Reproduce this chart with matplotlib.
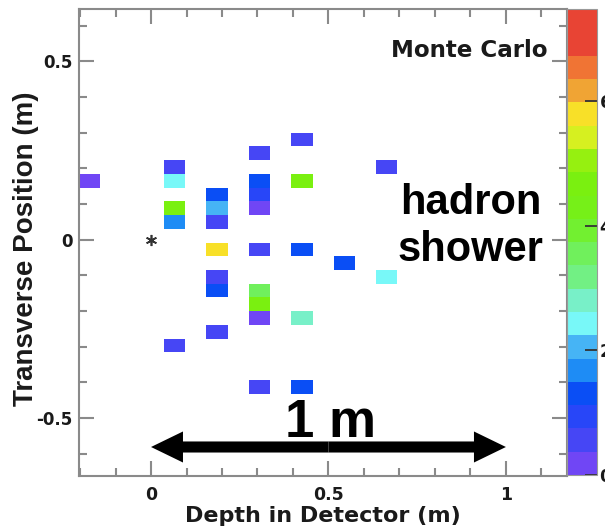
import numpy as np
import matplotlib
matplotlib.use("Agg")
import matplotlib.pyplot as plt
from matplotlib.colors import ListedColormap, BoundaryNorm
from matplotlib.ticker import MultipleLocator, FixedLocator, FormatStrFormatter


# hit cells (depth, transverse position, signal)
depth = [-0.18,
         0.06, 0.06, 0.06, 0.06, 0.06,
         0.18, 0.18, 0.18, 0.18, 0.18, 0.18, 0.18,
         0.30, 0.30, 0.30, 0.30, 0.30, 0.30, 0.30, 0.30, 0.30,
         0.42, 0.42, 0.42, 0.42, 0.42,
         0.54,
         0.66, 0.66]
transverse = [0.166,
              0.204, 0.166, 0.089, 0.050, -0.297,
              0.127, 0.089, 0.050, -0.027, -0.104, -0.143, -0.258,
              0.243, 0.166, 0.127, 0.089, -0.027, -0.143, -0.181, -0.220, -0.412,
              0.281, 0.166, -0.027, -0.220, -0.412,
              -0.066,
              0.204, -0.104]
signal = [0.19,
          0.56, 2.43, 4.68, 1.68, 0.56,
          1.31, 2.06, 0.56, 5.80, 0.56, 1.31, 0.56,
          0.56, 1.31, 0.94, 0.19, 0.56, 3.55, 4.68, 0.19, 0.56,
          0.56, 4.68, 1.31, 2.81, 1.31,
          1.31,
          0.56, 2.43]

# binning of the detector histogram
x_lo, x_hi, nx = -0.203, 1.173, 23
y_lo, y_hi, ny = -0.6623, 0.6467, 34
x_edges = np.linspace(x_lo, x_hi, nx + 1)
y_edges = np.linspace(y_lo, y_hi, ny + 1)

z_max = 7.48
palette = ['#7046F5', '#4646F5', '#2846F8', '#0A4EF5', '#1E8CF5',
           '#46B4F5', '#78F8F8', '#78F0C8', '#72F084', '#70F05C',
           '#72F030', '#76F018', '#7AF010', '#96F010', '#D6F020',
           '#F8E028', '#F0A434', '#F07434', '#E84434', '#E84434']

frame_col = '#8a8a8a'
text_col = '#1a1a1a'

fig = plt.figure(figsize=(6.05, 5.32), dpi=100)
ax = fig.add_axes([79 / 605, 56 / 532, 488.3 / 605, 467 / 532])
cax = fig.add_axes([567.3 / 605, 57 / 532, 29.4 / 605, 465.7 / 532])

H, xe, ye = np.histogram2d(depth, transverse, bins=[x_edges, y_edges], weights=signal)
H = np.ma.masked_equal(H, 0)

cmap = ListedColormap(palette)
norm = BoundaryNorm(np.linspace(0, z_max, len(palette) + 1), len(palette))
mesh = ax.pcolormesh(xe, ye, H.T, cmap=cmap, norm=norm, edgecolors='none', antialiased=False)

# vertex
ax.plot([0], [0], marker=(6, 2, 0), ms=8, mew=1.2, color='#333333', linestyle='none')

ax.set_xlim(x_lo, x_hi)
ax.set_ylim(y_lo, y_hi)

ax.xaxis.set_major_locator(FixedLocator([0, 0.5, 1]))
ax.xaxis.set_minor_locator(MultipleLocator(0.1))
ax.yaxis.set_major_locator(FixedLocator([-0.5, 0, 0.5]))
ax.yaxis.set_minor_locator(MultipleLocator(0.1))
ax.xaxis.set_major_formatter(FormatStrFormatter('%g'))
ax.yaxis.set_major_formatter(FormatStrFormatter('%g'))

ax.tick_params(which='both', direction='in', top=True, right=True, color=frame_col, width=1.5)
ax.tick_params(which='major', length=11)
ax.tick_params(which='minor', length=5.5)
ax.tick_params(axis='x', which='major', pad=7, labelsize=12.5, labelcolor=text_col)
ax.tick_params(axis='y', which='major', pad=4.5, labelsize=12, labelcolor=text_col)
for lab in ax.get_xticklabels() + ax.get_yticklabels():
    lab.set_fontweight('bold')
for sp in ax.spines.values():
    sp.set_color(frame_col)
    sp.set_linewidth(1.5)

ax.set_xlabel('Depth in Detector (m)', fontsize=16, fontweight='bold', color=text_col)
ax.xaxis.set_label_coords(0.5, -0.064)
ax.set_ylabel('Transverse Position (m)', fontsize=20, fontweight='bold', color=text_col,
              family='Liberation Sans')
ax.yaxis.set_label_coords(-0.082, 0.487)

ax.text(1.116, 0.511, 'Monte Carlo', ha='right', va='baseline', fontsize=16.6,
        fontweight='bold', color=text_col)
ax.text(0.90, 0.073, 'hadron', ha='center', va='baseline', fontsize=30,
        fontweight='bold', family='Liberation Sans', color='black')
ax.text(0.90, -0.059, 'shower', ha='center', va='baseline', fontsize=30,
        fontweight='bold', family='Liberation Sans', color='black')
ax.text(0.505, -0.553, '1 m', ha='center', va='baseline', fontsize=38,
        fontweight='bold', family='Liberation Sans', color='black')

# 1 m scale arrow
arrow_y = -0.581
for end in [0.0, 1.0]:
    ax.arrow(0.5, arrow_y, end - 0.5, 0, width=0.031, head_width=0.087, head_length=0.09,
             length_includes_head=True, color='black', lw=0)

cb = fig.colorbar(mesh, cax=cax, ticks=[0, 2, 4, 6])
cb.outline.set_edgecolor('#999999')
cb.outline.set_linewidth(0.8)
cax.tick_params(direction='in', length=9, width=1.3, color='#333333', pad=2,
                labelsize=12.5, labelcolor=text_col)
cax.minorticks_off()
for lab in cax.get_yticklabels():
    lab.set_fontweight('bold')

fig.savefig('out.png', dpi=100)
